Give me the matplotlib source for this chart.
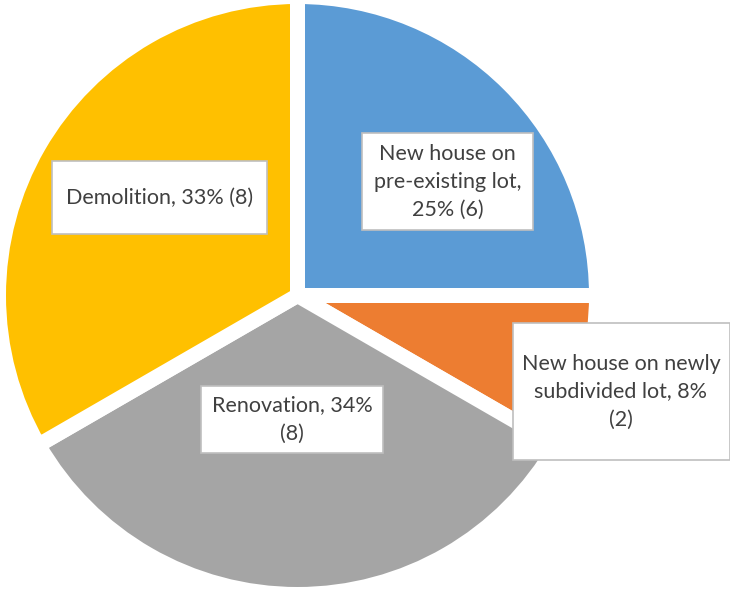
import matplotlib
matplotlib.use("Agg")
import matplotlib.pyplot as plt
import matplotlib.patches as mpatches

# data
categories = ["New house on pre-existing lot", "New house on newly subdivided lot",
              "Renovation", "Demolition"]
counts = [6, 2, 8, 8]
label_texts = ["New house on\npre-existing lot,\n25% (6)",
               "New house on newly\nsubdivided lot, 8%\n(2)",
               "Renovation, 34%\n(8)",
               "Demolition, 33% (8)"]
colors = ["#5B9BD5", "#ED7D31", "#A5A5A5", "#FFC000"]

W, H = 730, 590
fig = plt.figure(figsize=(W / 100, H / 100), dpi=100, facecolor="w")

# pie axes: center at (297.5, 295.5) px from top-left, radius 299 px
cx, cy, r = 297.5, 295.5, 299
ax = fig.add_axes([(cx - r) / W, (H - cy - r) / H, 2 * r / W, 2 * r / H])
ax.pie(counts, colors=colors, startangle=90, counterclock=False, radius=1,
       wedgeprops=dict(edgecolor="white", linewidth=10.8))
ax.set_xlim(-1, 1)
ax.set_ylim(-1, 1)
ax.axis("off")

# label boxes (center x, center y, width, height) in px from top-left
boxes = [(447.5, 181.5, 171, 97),
         (621, 391.5, 217, 137),
         (292, 419.5, 182, 67),
         (159.5, 197.5, 215, 73)]

for (bx, by, bw, bh), txt in zip(boxes, label_texts):
    rect = mpatches.Rectangle(((bx - bw / 2) / W, (H - by - bh / 2) / H), bw / W, bh / H,
                              transform=fig.transFigure, facecolor="white",
                              edgecolor="#BFBFBF", linewidth=1.2)
    fig.patches.append(rect)
    fig.text(bx / W, (H - by) / H, txt, ha="center", va="center", color="#404040",
             fontsize=15.5, family="Lato", linespacing=1.5)

plt.savefig("out.png", dpi=100)
